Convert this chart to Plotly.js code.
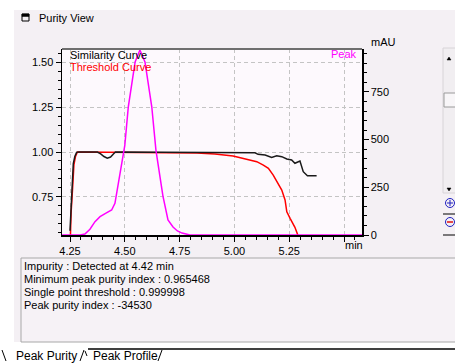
<!DOCTYPE html>
<html>
<head>
<meta charset="utf-8">
<script src="https://cdn.plot.ly/plotly-3.0.1.min.js"></script>
<style>html,body{margin:0;padding:0;background:#fff;}#chart{width:455px;height:363px;}</style>
</head>
<body>
<div id="chart"></div>
<script>
// ---- data ----
const peakTime = [4.213, 4.296, 4.318, 4.341, 4.364, 4.387, 4.418, 4.440, 4.455, 4.465, 4.478, 4.493, 4.500, 4.516, 4.547, 4.569, 4.592, 4.623, 4.642, 4.660, 4.674, 4.697, 4.720, 4.740, 4.761, 4.797, 5.582];
const peakMAU  = [0, 0, 5, 30, 70, 96, 117, 131, 166, 236, 323, 419, 470, 672, 907, 970, 907, 672, 445, 309, 204, 79, 42, 21, 10, 0, 0];

const simTime = [4.250, 4.258, 4.265, 4.272, 4.280, 4.290, 4.375, 4.390, 4.405, 4.420, 4.435, 4.447, 4.457, 5.094, 5.108, 5.140, 5.170, 5.193, 5.216, 5.239, 5.261, 5.276, 5.299, 5.314, 5.333, 5.375];
const simVal  = [0.56, 0.73, 0.935, 0.975, 0.998, 1.000, 1.000, 0.990, 0.975, 0.966, 0.972, 0.988, 1.000, 0.996, 0.987, 0.983, 0.970, 0.979, 0.974, 0.961, 0.955, 0.937, 0.950, 0.890, 0.867, 0.867];

const thrTime = [4.250, 4.255, 4.262, 4.268, 4.275, 4.284, 4.829, 4.911, 4.994, 5.039, 5.071, 5.102, 5.132, 5.155, 5.177, 5.200, 5.216, 5.231, 5.239, 5.254, 5.276, 5.291];
const thrVal  = [0.45, 0.66, 0.80, 0.93, 0.975, 1.000, 0.995, 0.989, 0.978, 0.965, 0.955, 0.946, 0.927, 0.909, 0.871, 0.825, 0.787, 0.732, 0.666, 0.629, 0.579, 0.530];

const xTicks = [4.25, 4.50, 4.75, 5.00, 5.25, 5.50];
const xTickText = ['4.25', '4.50', '4.75', '5.00', '5.25', ''];
const yTicks = [0.75, 1.00, 1.25, 1.50];
const yTickText = ['0.75', '1.00', '1.25', '1.50'];
const y2Ticks = [0, 250, 500, 750];
const y2TickText = ['0', '250', '500', '750'];

const infoLines = [
  'Impurity : Detected at 4.42 min',
  'Minimum peak purity index : 0.965468',
  'Single point threshold : 0.999998',
  'Peak purity index : -34530'
];

// ---- geometry helpers (pixel -> paper) ----
const L = 62, R = 362, T = 49, B = 235;
const px = x => (x - L) / (R - L);
const py = y => (B - y) / (B - T);
const FONT = 'Liberation Sans, Arial, sans-serif';

function rect(x0, y0, x1, y1, fill, line, lw, layer) {
  return {type: 'rect', xref: 'paper', yref: 'paper', x0: px(x0), x1: px(x1), y0: py(y0), y1: py(y1),
    fillcolor: fill, line: {color: line || 'rgba(0,0,0,0)', width: lw || 0}, layer: layer || 'below'};
}
function seg(x0, y0, x1, y1, color, w, layer) {
  return {type: 'line', xref: 'paper', yref: 'paper', x0: px(x0), x1: px(x1), y0: py(y0), y1: py(y1),
    line: {color: color, width: w}, layer: layer || 'above'};
}
function pathShape(pts, fill, color) {
  let d = 'M ' + pts.map(p => px(p[0]) + ' ' + py(p[1])).join(' L ') + ' Z';
  return {type: 'path', xref: 'paper', yref: 'paper', path: d, fillcolor: fill, line: {color: color || fill, width: 0.5}, layer: 'above'};
}
function circ(cx, cy, r, color) {
  return {type: 'circle', xref: 'paper', yref: 'paper', x0: px(cx - r), x1: px(cx + r), y0: py(cy + r), y1: py(cy - r),
    line: {color: color, width: 1}, fillcolor: 'rgba(0,0,0,0)', layer: 'above'};
}
function ann(text, x, y, color, anchor, size) {
  return {text: text, xref: 'paper', yref: 'paper', x: px(x), y: py(y), showarrow: false,
    xanchor: anchor || 'left', yanchor: 'middle', font: {family: FONT, size: size || 11, color: color || '#000'}};
}

const traces = [
  {x: thrTime, y: thrVal, yaxis: 'y', mode: 'lines', name: 'Threshold Curve', line: {color: '#ff0000', width: 1.5}},
  {x: simTime, y: simVal, yaxis: 'y', mode: 'lines', name: 'Similarity Curve', line: {color: '#1a1a1a', width: 1.5}},
  {x: peakTime, y: peakMAU, yaxis: 'y2', mode: 'lines', name: 'Peak', line: {color: '#ff00ff', width: 1.5}}
];

const shapes = [
  rect(14, 10, 455, 342, '#f4f0f4'),
  rect(L, T, R, B, '#fdf9fd'),
  rect(21, 258, 456, 342, '#f6f2f6', '#a8a8a8', 1),
  rect(0, 343, 455, 363, '#ffffff'),
  seg(88, 349, 455, 349, '#000000', 1.5),
  seg(2, 350, 6, 361, '#000000', 1),
  seg(84, 350, 80, 361, '#000000', 1),
  seg(85, 351, 87, 356, '#000000', 1),
  seg(162, 350, 158, 361, '#000000', 1),
  // top frame of plot
  seg(L, T, R, T, '#6e6e6e', 2),
  // window icon
  rect(22, 14, 29, 21, 'rgba(0,0,0,0)', '#000000', 1, 'above'),
  rect(22, 14, 29, 16.5, '#000000', '#000000', 0.5, 'above'),
  // scrollbar
  rect(443, 48, 456, 193, '#f1eef1', '#d8d4d8', 1),
  rect(444, 93, 456, 107, '#f8f6f8', '#9a9a9a', 1),
  pathShape([[447, 60], [451, 60], [449, 57]], '#000000'),
  pathShape([[447, 188], [451, 188], [449, 191]], '#000000'),
  // zoom icons
  circ(450, 203, 4.5, '#2020c0'),
  seg(447, 203, 453, 203, '#2020c0', 1),
  seg(450, 200, 450, 206, '#2020c0', 1),
  seg(443, 214, 455, 214, '#000000', 1),
  circ(450, 222, 4.5, '#2020c0'),
  seg(447, 222, 453, 222, '#e01010', 1.5),
  seg(443, 235, 455, 235, '#000000', 1)
];

const annotations = [
  ann('Purity View', 37, 18, '#000', 'left', 11),
  ann('Similarity Curve', 68, 55, '#000', 'left', 11),
  ann('Threshold Curve', 68, 67, '#ff0000', 'left', 11),
  ann('Peak', 359, 54, '#ff00ff', 'right', 11),
  ann('mAU', 369, 42, '#000', 'left', 11),
  ann('min', 343, 245, '#000', 'left', 11),
  ann('Peak Purity', 14, 356, '#000', 'left', 12),
  ann('Peak Profile', 91, 356, '#000', 'left', 12)
];
infoLines.forEach((t, i) => annotations.push(ann(t, 22, 266 + 13 * i, '#000', 'left', 11)));

const tickfont = {family: FONT, size: 11, color: '#000'};
const layout = {
  width: 455, height: 363, autosize: false,
  margin: {l: L, r: 455 - R, t: T, b: 363 - B, pad: 0},
  paper_bgcolor: '#ffffff', plot_bgcolor: 'rgba(0,0,0,0)',
  showlegend: false,
  xaxis: {
    range: [4.2135, 5.582], tickmode: 'array', tickvals: xTicks, ticktext: xTickText,
    ticks: 'outside', ticklen: 5, tickcolor: '#000', tickwidth: 1,
    showline: true, linecolor: '#000', linewidth: 1.5,
    showgrid: true, gridcolor: '#c4c4c4', griddash: '4px,3px', gridwidth: 1,
    zeroline: false, tickfont: tickfont, fixedrange: true,
    minor: {tickmode: 'linear', tick0: 4.25, dtick: 0.05, ticks: 'outside', ticklen: 3, tickcolor: '#000', showgrid: false}
  },
  yaxis: {
    range: [0.536, 1.576], tickmode: 'array', tickvals: yTicks, ticktext: yTickText,
    ticks: 'outside', ticklen: 5, tickcolor: '#000', tickwidth: 1,
    showline: true, linecolor: '#000', linewidth: 1.5,
    showgrid: true, gridcolor: '#c4c4c4', griddash: '4px,3px', gridwidth: 1,
    zeroline: false, tickfont: tickfont, fixedrange: true,
    minor: {tickmode: 'linear', tick0: 0.75, dtick: 0.05, ticks: 'outside', ticklen: 3, tickcolor: '#000', showgrid: false}
  },
  yaxis2: {
    overlaying: 'y', side: 'right', anchor: 'x',
    range: [0, 975], tickmode: 'array', tickvals: y2Ticks, ticktext: y2TickText,
    ticks: 'outside', ticklen: 5, tickcolor: '#000', tickwidth: 1,
    showline: true, linecolor: '#000', linewidth: 1.5,
    showgrid: false, zeroline: false, tickfont: tickfont, fixedrange: true,
    minor: {tickmode: 'linear', tick0: 0, dtick: 50, ticks: 'outside', ticklen: 3, tickcolor: '#000', showgrid: false}
  },
  shapes: shapes,
  annotations: annotations
};

Plotly.newPlot('chart', traces, layout, {staticPlot: true, displayModeBar: false});
</script>
</body>
</html>
